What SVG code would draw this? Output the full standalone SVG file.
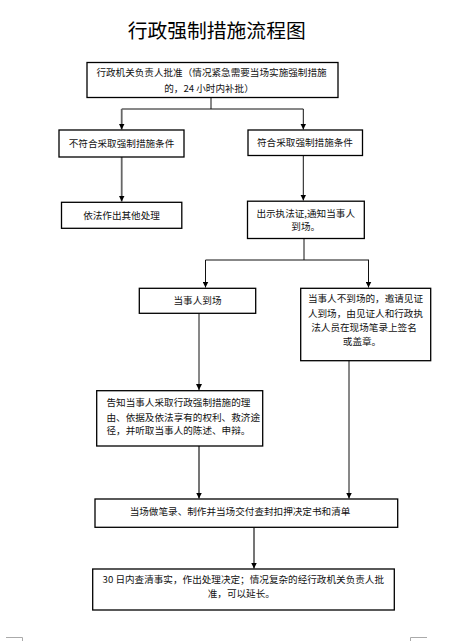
<svg xmlns="http://www.w3.org/2000/svg" width="452" height="641" viewBox="0 0 452 641">
<defs>
<style>
.box{fill:#fff;stroke:#000;stroke-width:1.3}
.t{font-family:"Noto Sans CJK SC","Noto Sans",sans-serif;font-size:9.6px;fill:#111;text-anchor:middle}
.ts{font-family:"Noto Sans CJK SC","Noto Sans",sans-serif;font-size:9.6px;fill:#111}
.title{font-family:"Noto Sans CJK SC","Noto Sans",sans-serif;font-size:19.8px;fill:#000;text-anchor:middle}
.c{fill:none;stroke:#111;stroke-width:1}
.g{fill:none;stroke:#666;stroke-width:1.8}
.mk{stroke:#aaa;stroke-width:1;fill:none}
</style>
<marker id="ah" viewBox="0 0 10 10" refX="10" refY="5" markerWidth="6" markerHeight="6" markerUnits="userSpaceOnUse" orient="auto">
<path d="M0,0 L10,5 L0,10 z" fill="#000"/>
</marker>
</defs>
<rect width="452" height="641" fill="#fff"/>
<text class="title" x="216.7" y="37.5">行政强制措施流程图</text>

<g id="connectors">
<path class="c" d="M211,97.5 V109 H303.3"/>
<path class="c" d="M121.7,109 H211"/>
<path class="g" d="M121.7,109 V129.5" marker-end="url(#ah)"/>
<path class="c" d="M303.3,109 V129.5" marker-end="url(#ah)"/>
<path class="g" d="M121.7,157 V201.5" marker-end="url(#ah)"/>
<path class="c" d="M303.3,155.5 V200.5" marker-end="url(#ah)"/>
<path class="c" d="M304,238.5 V260 M205.5,260 H369"/>
<path class="c" d="M205.5,260 V287.5" marker-end="url(#ah)"/>
<path class="c" d="M368.5,260 V287.5" marker-end="url(#ah)"/>
<path class="c" d="M199,313.5 V390" marker-end="url(#ah)"/>
<path class="c" d="M349,361 V498.5" marker-end="url(#ah)"/>
<path class="g" d="M199,446 V498.5" marker-end="url(#ah)"/>
<path class="g" d="M254,527.5 V568.5" marker-end="url(#ah)"/>
</g>

<g id="n-approve">
<rect class="box" x="87" y="62.5" width="251" height="35"/>
<text class="t" x="211.5" y="75.5">行政机关负责人批准（情况紧急需要当场实施强制措施</text>
<text class="t" x="209" y="91.5">的，24 小时内补批）</text>
</g>

<g id="n-notmeet">
<rect class="box" x="59" y="130" width="125" height="27"/>
<text class="t" x="121.5" y="147">不符合采取强制措施条件</text>
</g>

<g id="n-meet">
<rect class="box" x="248" y="130" width="114.5" height="25.5"/>
<text class="t" x="305" y="146">符合采取强制措施条件</text>
</g>

<g id="n-other">
<rect class="box" x="61.5" y="202.3" width="120.3" height="26"/>
<text class="t" x="121.5" y="218.5">依法作出其他处理</text>
</g>

<g id="n-show">
<rect class="box" x="247.5" y="201.2" width="116.8" height="37.3"/>
<text class="t" x="305.7" y="216.8">出示执法证,通知当事人</text>
<text class="t" x="305.7" y="230.3">到场。</text>
</g>

<g id="n-present">
<rect class="box" x="139.3" y="288.3" width="116.4" height="25"/>
<text class="t" x="197.5" y="304.2">当事人到场</text>
</g>

<g id="n-absent">
<rect class="box" x="300.7" y="288.3" width="130" height="72.4"/>
<text class="t" x="365.5" y="301.8">当事人不到场的，邀请见证</text>
<text class="t" x="365.5" y="316.5">人到场，由见证人和行政执</text>
<text class="t" x="364" y="330.8">法人员在现场笔录上签名</text>
<text class="t" x="362" y="345.2">或盖章。</text>
</g>

<g id="n-inform">
<rect class="box" x="96.7" y="390.7" width="166" height="55.3"/>
<text class="ts" x="106.5" y="406.4">告知当事人采取行政强制措施的理</text>
<text class="ts" x="106.5" y="420.7">由、依据及依法享有的权利、救济途</text>
<text class="ts" x="106.5" y="434.1">径，并听取当事人的陈述、申辩。</text>
</g>

<g id="n-record">
<rect class="box" x="95" y="499" width="302.7" height="28.3"/>
<text class="t" x="240" y="515.1">当场做笔录、制作并当场交付查封扣押决定书和清单</text>
</g>

<g id="n-final">
<rect class="box" x="92.7" y="569" width="301.6" height="41"/>
<text class="t" x="243.3" y="583.4">30 日内查清事实，作出处理决定；情况复杂的经行政机关负责人批</text>
<text class="t" x="241.3" y="597.4">准，可以延长。</text>
</g>

<path class="mk" d="M6,637.5 H22.5 V641"/>
<path class="mk" d="M410.5,641 V637.5 H427"/>
</svg>
